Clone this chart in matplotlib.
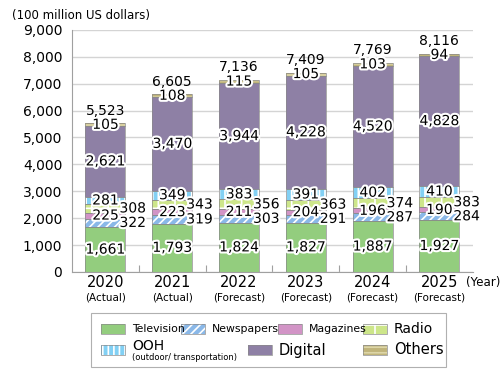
import numpy as np
import matplotlib.pyplot as plt
import matplotlib.patheffects as pe
from matplotlib.patches import Rectangle

plt.rcParams['font.family'] = ['DejaVu Sans']
plt.rcParams['hatch.linewidth'] = 1.2

years = ["2020", "2021", "2022", "2023", "2024", "2025"]
notes = ["(Actual)", "(Actual)", "(Forecast)", "(Forecast)", "(Forecast)", "(Forecast)"]

television = [1661, 1793, 1824, 1827, 1887, 1927]
newspapers = [322, 319, 303, 291, 287, 284]
magazines = [225, 223, 211, 204, 196, 190]
radio = [308, 343, 356, 363, 374, 383]
ooh = [281, 349, 383, 391, 402, 410]
digital = [2621, 3470, 3944, 4228, 4520, 4828]
others = [105, 108, 115, 105, 103, 94]

series = [television, newspapers, magazines, radio, ooh, digital, others]
colors = ["#93cd7e", "#8ab8e8", "#d294c6", "#cde68a", "#82d0f4", "#8e80a5", "#c0b47a"]
hatches = [None, "////", None, "+", "|||", None, "---"]
hatch_cols = ["none", "white", "none", "white", "white", "none", "#ddd6a8"]
# where the value label goes: inside the bar or just to the right
outside = [False, True, False, True, False, False, False]

fig = plt.figure(figsize=(5.04, 3.69), dpi=100)
ax = fig.add_axes([0.143, 0.263, 0.795, 0.656])

x = np.arange(len(years))
w = 0.6
bottom = np.zeros(len(years))
stroke = [pe.withStroke(linewidth=3, foreground="white")]

for vals, col, h, hc, out in zip(series, colors, hatches, hatch_cols, outside):
    vals = np.array(vals)
    # fill + hatch (hatch takes the edge colour), then the outline on top
    ax.bar(x, vals, w, bottom=bottom, color=col, edgecolor=hc if h else col,
           hatch=h, linewidth=0, zorder=2)
    ax.bar(x, vals, w, bottom=bottom, fill=False, edgecolor="#8a8a8a",
           linewidth=0.5, zorder=3)
    for i, v in enumerate(vals):
        yc = bottom[i] + v / 2
        if out:
            ax.text(x[i] + 0.21, yc, f"{v:,}", ha="left", va="center",
                    fontsize=10, zorder=5, path_effects=stroke)
        else:
            ax.text(x[i], yc, f"{v:,}", ha="center", va="center",
                    fontsize=10, zorder=5, path_effects=stroke)
    bottom = bottom + vals

for i, t in enumerate(bottom):
    ax.annotate(f"{int(t):,}", (x[i], t), xytext=(0, 4), textcoords="offset points",
                ha="center", va="bottom", fontsize=10, zorder=5)

ax.set_xlim(-0.5, len(years) - 0.5)
ax.set_ylim(0, 9000)
ax.set_yticks(np.arange(0, 9001, 1000))
ax.set_yticklabels([f"{v:,}" for v in range(0, 9001, 1000)], fontsize=10)
ax.tick_params(axis="y", length=0, pad=7)
ax.yaxis.grid(True, color="#d4d4d4", linewidth=1)
ax.set_axisbelow(True)

# category boundary ticks on the x axis
ax.set_xticks(np.arange(0.5, len(years) - 0.5, 1))
ax.set_xticklabels([])
ax.tick_params(axis="x", direction="in", length=5, color="#a0a0a0")

for s in ["top", "right"]:
    ax.spines[s].set_visible(False)
for s in ["left", "bottom"]:
    ax.spines[s].set_color("#a0a0a0")

for i in range(len(years)):
    ax.text(x[i], -0.045, years[i], transform=ax.get_xaxis_transform(),
            ha="center", va="center", fontsize=10.5)
    ax.text(x[i], -0.105, notes[i], transform=ax.get_xaxis_transform(),
            ha="center", va="center", fontsize=7.5)
ax.text(x[-1] + 0.40, -0.045, "(Year)", transform=ax.get_xaxis_transform(),
        ha="left", va="center", fontsize=8.5)

fig.text(12 / 504, 1 - 15 / 369, "(100 million US dollars)", ha="left", va="center",
         fontsize=8.5)

# legend box, drawn by hand to keep the two-row layout of the original
W, H = 504.0, 369.0


def fx(px):
    return px / W


def fy(py):
    return 1 - py / H


fig.patches.append(Rectangle((fx(91), fy(367)), fx(446) - fx(91), fy(313) - fy(367),
                             transform=fig.transFigure, fill=False,
                             edgecolor="#b0b0b0", linewidth=0.8))

leg = [
    ("Television", 101, 329, 7.8, None),
    ("Newspapers", 181, 329, 7.8, None),
    ("Magazines", 278, 329, 7.8, None),
    ("Radio", 363, 329, 10, None),
    ("OOH", 101, 350, 10, "(outdoor/ transportation)"),
    ("Digital", 248, 350, 10.5, None),
    ("Others", 363, 350, 10.5, None),
]
for k, (name, px, py, fs, sub) in enumerate(leg):
    r = Rectangle((fx(px), fy(py + 5)), 24 / W, 10 / H, transform=fig.transFigure,
                  facecolor=colors[k], edgecolor=hatch_cols[k] if hatches[k] else colors[k],
                  hatch=hatches[k], linewidth=0)
    fig.patches.append(r)
    fig.patches.append(Rectangle((fx(px), fy(py + 5)), 24 / W, 10 / H,
                                 transform=fig.transFigure, fill=False,
                                 edgecolor="#8a8a8a", linewidth=0.5))
    if sub:
        fig.text(fx(px + 31), fy(py - 4), name, ha="left", va="center", fontsize=fs)
        fig.text(fx(px + 31), fy(py + 8), sub, ha="left", va="center", fontsize=6)
    else:
        fig.text(fx(px + 31), fy(py), name, ha="left", va="center", fontsize=fs)

fig.savefig("out.png", dpi=100)
